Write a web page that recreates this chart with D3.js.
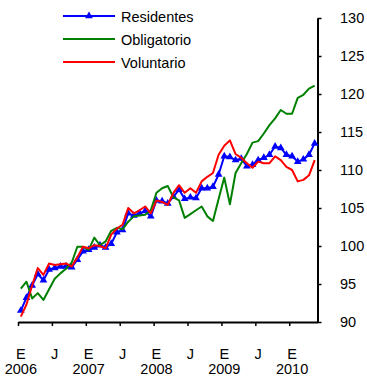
<!DOCTYPE html>
<html>
<head>
<meta charset="utf-8">
<script src="https://cdn.jsdelivr.net/npm/d3@7"></script>
<style>
  html, body { margin: 0; padding: 0; background: #fff; }
  svg text { font-family: Arial, "Liberation Sans", sans-serif; fill: #000; }
</style>
</head>
<body>
<svg id="chart" width="367" height="377"></svg>
<script>
// Monthly index, January 2006 to May 2010
const categories = d3.timeMonth.range(new Date(2006, 0, 1), new Date(2010, 5, 1))
  .map(d3.timeFormat("%Y-%m"));

const residentes = [
  91.5, 93.2, 94.8, 96.3, 95.5, 96.9, 97.1, 97.3, 97.3, 97.2, 98.2, 99.3,
  99.5, 99.8, 100.1, 99.8, 100.3, 101.8, 102.1, 104.3, 104.0, 104.3, 104.6, 103.9,
  106.0, 105.9, 105.6, 106.5, 107.4, 106.2, 106.4, 106.3, 107.6, 107.6, 107.8, 109.4,
  111.8, 111.7, 111.3, 111.5, 110.5, 110.7, 111.3, 111.6, 112.0, 113.1, 112.9, 112.0,
  111.8, 111.1, 111.4, 112.0, 113.5
];
const obligatorio = [
  94.4, 95.3, 93.1, 93.8, 92.9, 94.3, 95.7, 96.4, 97.0, 97.8, 99.9, 99.9,
  99.5, 101.1, 100.1, 100.6, 102.0, 102.4, 102.2, 103.2, 103.9, 104.0, 104.1, 104.7,
  107.0, 107.6, 107.9, 106.4, 106.0, 103.7, 104.2, 104.7, 105.2, 103.9, 103.3, 106.2,
  109.0, 105.5, 109.6, 110.9, 112.1, 113.6, 113.8, 114.8, 115.9, 116.8, 117.9, 117.4,
  117.4, 119.5, 119.9, 120.7, 121.1
];
const voluntario = [
  90.7, 92.3, 94.8, 97.1, 96.2, 97.7, 97.5, 97.6, 97.7, 97.3, 98.5, 99.9,
  99.7, 100.1, 100.0, 99.7, 101.5, 102.3, 102.8, 105.0, 104.3, 104.7, 105.2, 104.3,
  106.0, 105.8, 105.4, 107.0, 108.0, 107.0, 107.6, 107.0, 108.5, 109.1, 109.6, 112.0,
  113.2, 113.9, 112.1, 111.6, 110.9, 110.3, 111.1, 110.9, 110.9, 111.8, 111.3, 110.4,
  110.0, 108.5, 108.7, 109.3, 111.3
];

const seriesNames = ["Residentes", "Obligatorio", "Voluntario"];
const seriesColors = ["#0000ff", "#008000", "#ff0000"];

const yTicks = [90, 95, 100, 105, 110, 115, 120, 125, 130];
const xTickIndex = [0, 6, 12, 18, 24, 30, 36, 42, 48];
const xTickMonth = ["E", "J", "E", "J", "E", "J", "E", "J", "E"];
const xTickYear = ["2006", "", "2007", "", "2008", "", "2009", "", "2010"];

const svg = d3.select("#chart");
const plot = { left: 18, right: 317.5, top: 18, bottom: 322 };
const fontSize = "14.5px";

const xBand = d3.scaleBand().domain(categories).range([plot.left, plot.right]).padding(0);
const xEdge = d3.scaleLinear().domain([0, categories.length]).range([plot.left, plot.right]);
const y = d3.scaleLinear().domain([90, 130]).range([plot.bottom, plot.top]);
const cx = i => xBand(categories[i]) + xBand.bandwidth() / 2;

// Value axis on the right
const yAxis = svg.append("g")
  .attr("transform", `translate(${plot.right},0)`)
  .call(d3.axisRight(y).tickValues(yTicks).tickSize(4).tickSizeOuter(0).tickPadding(18.5));
yAxis.select(".domain").attr("stroke-width", 2);
yAxis.selectAll(".tick line").attr("stroke-width", 1.5);
yAxis.selectAll("text").attr("font-size", fontSize).attr("text-anchor", "start")
  .style("font-family", "Arial, 'Liberation Sans', sans-serif");

// Category axis: tick marks every six months
const xAxis = svg.append("g")
  .attr("transform", `translate(0,${plot.bottom})`)
  .call(d3.axisBottom(xEdge).tickValues(xTickIndex).tickSize(4).tickSizeOuter(0).tickFormat(""));
xAxis.select(".domain").attr("stroke-width", 2);
xAxis.selectAll(".tick line").attr("stroke-width", 1.5);

const labels = svg.append("g").attr("font-size", fontSize).attr("text-anchor", "middle");
labels.selectAll("text.m").data(xTickIndex).join("text")
  .attr("class", "m").attr("x", d => cx(d)).attr("y", 358.5)
  .text((d, i) => xTickMonth[i]);
labels.selectAll("text.yr").data(xTickIndex).join("text")
  .attr("class", "yr").attr("x", d => cx(d)).attr("y", 374)
  .text((d, i) => xTickYear[i]);

// Series lines
const line = d3.line().x((d, i) => cx(i)).y(d => y(d));
const tri = d3.symbol().type(d3.symbolTriangle).size(26);

const allSeries = [residentes, obligatorio, voluntario];
allSeries.forEach((vals, k) => {
  svg.append("path").datum(vals)
    .attr("fill", "none").attr("stroke", seriesColors[k]).attr("stroke-width", 2)
    .attr("stroke-linejoin", "round").attr("d", line);
  if (k === 0) {
    svg.append("g").selectAll("path").data(vals).join("path")
      .attr("transform", (d, i) => `translate(${cx(i)},${y(d)})`)
      .attr("d", tri).attr("fill", seriesColors[0]);
  }
});

// Legend
const legend = svg.append("g");
const legendY = [16, 39, 62];
seriesNames.forEach((name, k) => {
  const g = legend.append("g").attr("transform", `translate(0,${legendY[k]})`);
  g.append("line").attr("x1", 63).attr("x2", 115).attr("y1", 0).attr("y2", 0)
    .attr("stroke", seriesColors[k]).attr("stroke-width", 2);
  if (k === 0) {
    g.append("path").attr("transform", "translate(89,0)").attr("d", tri).attr("fill", seriesColors[0]);
  }
  g.append("text").attr("x", 121).attr("y", 5.5).attr("font-size", fontSize).text(name);
});
</script>
</body>
</html>
